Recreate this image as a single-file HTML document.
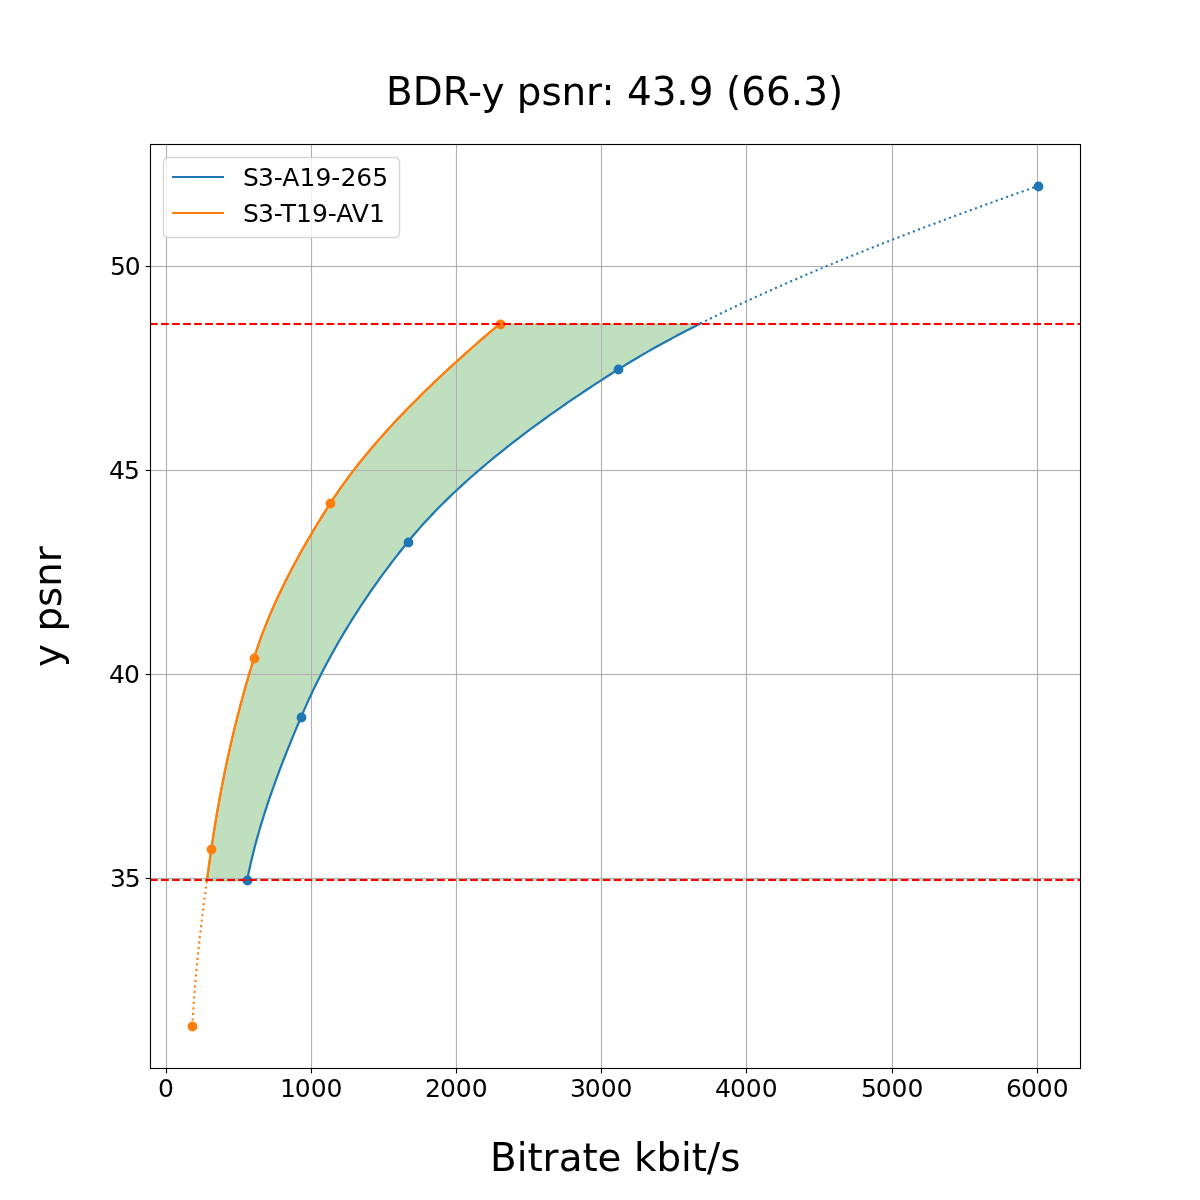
<!DOCTYPE html>
<html lang="en">
<head>
<meta charset="utf-8">
<title>BDR-y psnr: 43.9 (66.3)</title>
<style>
html,body{margin:0;padding:0;background:#ffffff;}
body{width:1200px;height:1200px;overflow:hidden;}
svg{display:block;}
</style>
</head>
<body>
<svg width="1200" height="1200" viewBox="0 0 1200 1200">
<rect x="0" y="0" width="1200" height="1200" fill="#ffffff"/>
<path d="M206.948 880.7 L207.331 877.582 L207.716 874.785 L208.103 871.987 L208.493 869.189 L208.885 866.391 L209.278 863.594 L209.674 860.796 L210.072 857.998 L210.472 855.2 L210.874 852.403 L211.277 849.605 L211.683 846.807 L212.095 844.009 L212.513 841.212 L212.936 838.414 L213.365 835.616 L213.801 832.818 L214.242 830.021 L214.689 827.223 L215.142 824.425 L215.601 821.627 L216.066 818.83 L216.537 816.032 L217.015 813.234 L217.498 810.437 L217.988 807.639 L218.484 804.841 L218.986 802.043 L219.494 799.246 L220.009 796.448 L220.53 793.65 L221.057 790.852 L221.591 788.055 L222.132 785.257 L222.678 782.459 L223.232 779.661 L223.791 776.864 L224.358 774.066 L224.931 771.268 L225.51 768.47 L226.097 765.673 L226.69 762.875 L227.29 760.077 L227.896 757.279 L228.509 754.482 L229.13 751.684 L229.757 748.886 L230.391 746.089 L231.032 743.291 L231.679 740.493 L232.334 737.695 L232.996 734.898 L233.665 732.1 L234.341 729.302 L235.024 726.504 L235.715 723.707 L236.412 720.909 L237.117 718.111 L237.829 715.313 L238.549 712.516 L239.275 709.718 L240.009 706.92 L240.751 704.122 L241.5 701.325 L242.256 698.527 L243.02 695.729 L243.791 692.932 L244.57 690.134 L245.357 687.336 L246.151 684.538 L246.953 681.741 L247.762 678.943 L248.579 676.145 L249.404 673.347 L250.237 670.55 L251.078 667.752 L251.926 664.954 L252.782 662.156 L253.647 659.359 L254.521 656.561 L255.415 653.763 L256.33 650.965 L257.266 648.168 L258.223 645.37 L259.201 642.572 L260.2 639.774 L261.218 636.977 L262.257 634.179 L263.316 631.381 L264.395 628.584 L265.493 625.786 L266.611 622.988 L267.749 620.19 L268.905 617.393 L270.081 614.595 L271.275 611.797 L272.488 608.999 L273.72 606.202 L274.969 603.404 L276.237 600.606 L277.523 597.808 L278.827 595.011 L280.148 592.213 L281.487 589.415 L282.843 586.617 L284.216 583.82 L285.606 581.022 L287.013 578.224 L288.436 575.426 L289.876 572.629 L291.332 569.831 L292.805 567.033 L294.293 564.236 L295.797 561.438 L297.316 558.64 L298.851 555.842 L300.401 553.045 L301.966 550.247 L303.546 547.449 L305.141 544.651 L306.75 541.854 L308.374 539.056 L310.011 536.258 L311.663 533.46 L313.329 530.663 L315.008 527.865 L316.701 525.067 L318.408 522.269 L320.127 519.472 L321.859 516.674 L323.605 513.876 L325.362 511.078 L327.133 508.281 L328.916 505.483 L330.711 502.685 L332.531 499.888 L334.383 497.09 L336.265 494.292 L338.178 491.494 L340.122 488.697 L342.096 485.899 L344.1 483.101 L346.134 480.303 L348.197 477.506 L350.289 474.708 L352.411 471.91 L354.561 469.112 L356.74 466.315 L358.947 463.517 L361.182 460.719 L363.445 457.921 L365.736 455.124 L368.054 452.326 L370.399 449.528 L372.771 446.731 L375.169 443.933 L377.594 441.135 L380.045 438.337 L382.522 435.54 L385.025 432.742 L387.553 429.944 L390.106 427.146 L392.684 424.349 L395.287 421.551 L397.914 418.753 L400.566 415.955 L403.241 413.158 L405.94 410.36 L408.663 407.562 L411.409 404.764 L414.177 401.967 L416.969 399.169 L419.783 396.371 L422.619 393.573 L425.478 390.776 L428.358 387.978 L431.26 385.18 L434.183 382.383 L437.127 379.585 L440.092 376.787 L443.077 373.989 L446.083 371.192 L449.109 368.394 L452.155 365.596 L455.22 362.798 L458.305 360.001 L461.409 357.203 L464.532 354.405 L467.673 351.607 L470.833 348.81 L474.011 346.012 L477.207 343.214 L480.42 340.416 L483.652 337.619 L486.9 334.821 L490.165 332.023 L493.447 329.225 L496.745 326.428 L500.06 324.2 L700.146 324.2 L694.628 326.428 L689.174 329.225 L683.784 332.023 L678.46 334.821 L673.201 337.619 L668.008 340.416 L662.881 343.214 L657.823 346.012 L652.832 348.81 L647.91 351.607 L643.057 354.405 L638.273 357.203 L633.56 360.001 L628.918 362.798 L624.348 365.596 L619.849 368.394 L615.414 371.192 L611.011 373.989 L606.638 376.787 L602.295 379.585 L597.982 382.383 L593.7 385.18 L589.448 387.978 L585.228 390.776 L581.038 393.573 L576.88 396.371 L572.753 399.169 L568.657 401.967 L564.594 404.764 L560.562 407.562 L556.562 410.36 L552.594 413.158 L548.659 415.955 L544.756 418.753 L540.887 421.551 L537.05 424.349 L533.246 427.146 L529.475 429.944 L525.738 432.742 L522.034 435.54 L518.365 438.337 L514.729 441.135 L511.127 443.933 L507.559 446.731 L504.027 449.528 L500.528 452.326 L497.065 455.124 L493.636 457.921 L490.243 460.719 L486.885 463.517 L483.562 466.315 L480.275 469.112 L477.024 471.91 L473.809 474.708 L470.63 477.506 L467.488 480.303 L464.382 483.101 L461.313 485.899 L458.281 488.697 L455.285 491.494 L452.327 494.292 L449.407 497.09 L446.524 499.888 L443.678 502.685 L440.871 505.483 L438.102 508.281 L435.371 511.078 L432.678 513.876 L430.024 516.674 L427.409 519.472 L424.832 522.269 L422.295 525.067 L419.797 527.865 L417.339 530.663 L414.92 533.46 L412.541 536.258 L410.202 539.056 L407.904 541.854 L405.636 544.651 L403.389 547.449 L401.162 550.247 L398.954 553.045 L396.767 555.842 L394.599 558.64 L392.45 561.438 L390.322 564.236 L388.212 567.033 L386.122 569.831 L384.051 572.629 L382 575.426 L379.967 578.224 L377.953 581.022 L375.958 583.82 L373.982 586.617 L372.025 589.415 L370.086 592.213 L368.166 595.011 L366.264 597.808 L364.381 600.606 L362.515 603.404 L360.668 606.202 L358.839 608.999 L357.028 611.797 L355.235 614.595 L353.459 617.393 L351.701 620.19 L349.961 622.988 L348.238 625.786 L346.533 628.584 L344.845 631.381 L343.174 634.179 L341.52 636.977 L339.883 639.774 L338.264 642.572 L336.661 645.37 L335.075 648.168 L333.505 650.965 L331.952 653.763 L330.416 656.561 L328.896 659.359 L327.392 662.156 L325.905 664.954 L324.433 667.752 L322.978 670.55 L321.538 673.347 L320.115 676.145 L318.707 678.943 L317.315 681.741 L315.938 684.538 L314.577 687.336 L313.231 690.134 L311.901 692.932 L310.585 695.729 L309.285 698.527 L308 701.325 L306.73 704.122 L305.474 706.92 L304.234 709.718 L303.008 712.516 L301.796 715.313 L300.598 718.111 L299.408 720.909 L298.224 723.707 L297.045 726.504 L295.873 729.302 L294.708 732.1 L293.549 734.898 L292.396 737.695 L291.251 740.493 L290.113 743.291 L288.982 746.089 L287.859 748.886 L286.744 751.684 L285.637 754.482 L284.537 757.279 L283.446 760.077 L282.364 762.875 L281.29 765.673 L280.225 768.47 L279.169 771.268 L278.123 774.066 L277.086 776.864 L276.058 779.661 L275.04 782.459 L274.033 785.257 L273.035 788.055 L272.048 790.852 L271.071 793.65 L270.105 796.448 L269.151 799.246 L268.207 802.043 L267.274 804.841 L266.353 807.639 L265.444 810.437 L264.547 813.234 L263.661 816.032 L262.788 818.83 L261.928 821.627 L261.08 824.425 L260.245 827.223 L259.422 830.021 L258.613 832.818 L257.818 835.616 L257.036 838.414 L256.267 841.212 L255.513 844.009 L254.773 846.807 L254.047 849.605 L253.335 852.403 L252.639 855.2 L251.957 857.998 L251.29 860.796 L250.638 863.594 L250.002 866.391 L249.382 869.189 L248.777 871.987 L248.189 874.785 L247.616 877.582 L247.06 880.7Z" fill="#008000" fill-opacity="0.25"/>
<path d="M206.948 880.38 L207.331 877.582 L207.716 874.785 L208.103 871.987 L208.493 869.189 L208.885 866.391 L209.278 863.594 L209.674 860.796 L210.072 857.998 L210.472 855.2 L210.874 852.403 L211.277 849.605 L211.683 846.807 L212.095 844.009 L212.513 841.212 L212.936 838.414 L213.365 835.616 L213.801 832.818 L214.242 830.021 L214.689 827.223 L215.142 824.425 L215.601 821.627 L216.066 818.83 L216.537 816.032 L217.015 813.234 L217.498 810.437 L217.988 807.639 L218.484 804.841 L218.986 802.043 L219.494 799.246 L220.009 796.448 L220.53 793.65 L221.057 790.852 L221.591 788.055 L222.132 785.257 L222.678 782.459 L223.232 779.661 L223.791 776.864 L224.358 774.066 L224.931 771.268 L225.51 768.47 L226.097 765.673 L226.69 762.875 L227.29 760.077 L227.896 757.279 L228.509 754.482 L229.13 751.684 L229.757 748.886 L230.391 746.089 L231.032 743.291 L231.679 740.493 L232.334 737.695 L232.996 734.898 L233.665 732.1 L234.341 729.302 L235.024 726.504 L235.715 723.707 L236.412 720.909 L237.117 718.111 L237.829 715.313 L238.549 712.516 L239.275 709.718 L240.009 706.92 L240.751 704.122 L241.5 701.325 L242.256 698.527 L243.02 695.729 L243.791 692.932 L244.57 690.134 L245.357 687.336 L246.151 684.538 L246.953 681.741 L247.762 678.943 L248.579 676.145 L249.404 673.347 L250.237 670.55 L251.078 667.752 L251.926 664.954 L252.782 662.156 L253.647 659.359 L254.521 656.561 L255.415 653.763 L256.33 650.965 L257.266 648.168 L258.223 645.37 L259.201 642.572 L260.2 639.774 L261.218 636.977 L262.257 634.179 L263.316 631.381 L264.395 628.584 L265.493 625.786 L266.611 622.988 L267.749 620.19 L268.905 617.393 L270.081 614.595 L271.275 611.797 L272.488 608.999 L273.72 606.202 L274.969 603.404 L276.237 600.606 L277.523 597.808 L278.827 595.011 L280.148 592.213 L281.487 589.415 L282.843 586.617 L284.216 583.82 L285.606 581.022 L287.013 578.224 L288.436 575.426 L289.876 572.629 L291.332 569.831 L292.805 567.033 L294.293 564.236 L295.797 561.438 L297.316 558.64 L298.851 555.842 L300.401 553.045 L301.966 550.247 L303.546 547.449 L305.141 544.651 L306.75 541.854 L308.374 539.056 L310.011 536.258 L311.663 533.46 L313.329 530.663 L315.008 527.865 L316.701 525.067 L318.408 522.269 L320.127 519.472 L321.859 516.674 L323.605 513.876 L325.362 511.078 L327.133 508.281 L328.916 505.483 L330.711 502.685 L332.531 499.888 L334.383 497.09 L336.265 494.292 L338.178 491.494 L340.122 488.697 L342.096 485.899 L344.1 483.101 L346.134 480.303 L348.197 477.506 L350.289 474.708 L352.411 471.91 L354.561 469.112 L356.74 466.315 L358.947 463.517 L361.182 460.719 L363.445 457.921 L365.736 455.124 L368.054 452.326 L370.399 449.528 L372.771 446.731 L375.169 443.933 L377.594 441.135 L380.045 438.337 L382.522 435.54 L385.025 432.742 L387.553 429.944 L390.106 427.146 L392.684 424.349 L395.287 421.551 L397.914 418.753 L400.566 415.955 L403.241 413.158 L405.94 410.36 L408.663 407.562 L411.409 404.764 L414.177 401.967 L416.969 399.169 L419.783 396.371 L422.619 393.573 L425.478 390.776 L428.358 387.978 L431.26 385.18 L434.183 382.383 L437.127 379.585 L440.092 376.787 L443.077 373.989 L446.083 371.192 L449.109 368.394 L452.155 365.596 L455.22 362.798 L458.305 360.001 L461.409 357.203 L464.532 354.405 L467.673 351.607 L470.833 348.81 L474.011 346.012 L477.207 343.214 L480.42 340.416 L483.652 337.619 L486.9 334.821 L490.165 332.023 L493.447 329.225 L496.745 326.428 L500.06 323.63" fill="none" stroke="#008000" stroke-opacity="0.25" stroke-width="1.389"/>
<path d="M247.06 880.38 L247.616 877.582 L248.189 874.785 L248.777 871.987 L249.382 869.189 L250.002 866.391 L250.638 863.594 L251.29 860.796 L251.957 857.998 L252.639 855.2 L253.335 852.403 L254.047 849.605 L254.773 846.807 L255.513 844.009 L256.267 841.212 L257.036 838.414 L257.818 835.616 L258.613 832.818 L259.422 830.021 L260.245 827.223 L261.08 824.425 L261.928 821.627 L262.788 818.83 L263.661 816.032 L264.547 813.234 L265.444 810.437 L266.353 807.639 L267.274 804.841 L268.207 802.043 L269.151 799.246 L270.105 796.448 L271.071 793.65 L272.048 790.852 L273.035 788.055 L274.033 785.257 L275.04 782.459 L276.058 779.661 L277.086 776.864 L278.123 774.066 L279.169 771.268 L280.225 768.47 L281.29 765.673 L282.364 762.875 L283.446 760.077 L284.537 757.279 L285.637 754.482 L286.744 751.684 L287.859 748.886 L288.982 746.089 L290.113 743.291 L291.251 740.493 L292.396 737.695 L293.549 734.898 L294.708 732.1 L295.873 729.302 L297.045 726.504 L298.224 723.707 L299.408 720.909 L300.598 718.111 L301.796 715.313 L303.008 712.516 L304.234 709.718 L305.474 706.92 L306.73 704.122 L308 701.325 L309.285 698.527 L310.585 695.729 L311.901 692.932 L313.231 690.134 L314.577 687.336 L315.938 684.538 L317.315 681.741 L318.707 678.943 L320.115 676.145 L321.538 673.347 L322.978 670.55 L324.433 667.752 L325.905 664.954 L327.392 662.156 L328.896 659.359 L330.416 656.561 L331.952 653.763 L333.505 650.965 L335.075 648.168 L336.661 645.37 L338.264 642.572 L339.883 639.774 L341.52 636.977 L343.174 634.179 L344.845 631.381 L346.533 628.584 L348.238 625.786 L349.961 622.988 L351.701 620.19 L353.459 617.393 L355.235 614.595 L357.028 611.797 L358.839 608.999 L360.668 606.202 L362.515 603.404 L364.381 600.606 L366.264 597.808 L368.166 595.011 L370.086 592.213 L372.025 589.415 L373.982 586.617 L375.958 583.82 L377.953 581.022 L379.967 578.224 L382 575.426 L384.051 572.629 L386.122 569.831 L388.212 567.033 L390.322 564.236 L392.45 561.438 L394.599 558.64 L396.767 555.842 L398.954 553.045 L401.162 550.247 L403.389 547.449 L405.636 544.651 L407.904 541.854 L410.202 539.056 L412.541 536.258 L414.92 533.46 L417.339 530.663 L419.797 527.865 L422.295 525.067 L424.832 522.269 L427.409 519.472 L430.024 516.674 L432.678 513.876 L435.371 511.078 L438.102 508.281 L440.871 505.483 L443.678 502.685 L446.524 499.888 L449.407 497.09 L452.327 494.292 L455.285 491.494 L458.281 488.697 L461.313 485.899 L464.382 483.101 L467.488 480.303 L470.63 477.506 L473.809 474.708 L477.024 471.91 L480.275 469.112 L483.562 466.315 L486.885 463.517 L490.243 460.719 L493.636 457.921 L497.065 455.124 L500.528 452.326 L504.027 449.528 L507.559 446.731 L511.127 443.933 L514.729 441.135 L518.365 438.337 L522.034 435.54 L525.738 432.742 L529.475 429.944 L533.246 427.146 L537.05 424.349 L540.887 421.551 L544.756 418.753 L548.659 415.955 L552.594 413.158 L556.562 410.36 L560.562 407.562 L564.594 404.764 L568.657 401.967 L572.753 399.169 L576.88 396.371 L581.038 393.573 L585.228 390.776 L589.448 387.978 L593.7 385.18 L597.982 382.383 L602.295 379.585 L606.638 376.787 L611.011 373.989 L615.414 371.192 L619.849 368.394 L624.348 365.596 L628.918 362.798 L633.56 360.001 L638.273 357.203 L643.057 354.405 L647.91 351.607 L652.832 348.81 L657.823 346.012 L662.881 343.214 L668.008 340.416 L673.201 337.619 L678.46 334.821 L683.784 332.023 L689.174 329.225 L694.628 326.428 L700.146 323.63" fill="none" stroke="#008000" stroke-opacity="0.25" stroke-width="1.389"/>
<path d="M500.06 324.2 L700.146 324.2" fill="none" stroke="#008000" stroke-opacity="0.25" stroke-width="1.389"/>
<path d="M206.948 880.7 L247.06 880.7" fill="none" stroke="#008000" stroke-opacity="0.25" stroke-width="1.389"/>
<g fill="#b0b0b0">
<rect x="165.931" y="144" width="1.137" height="924"/>
<rect x="310.932" y="144" width="1.137" height="924"/>
<rect x="455.932" y="144" width="1.137" height="924"/>
<rect x="600.932" y="144" width="1.137" height="924"/>
<rect x="745.932" y="144" width="1.137" height="924"/>
<rect x="891.932" y="144" width="1.137" height="924"/>
<rect x="1036.931" y="144" width="1.137" height="924"/>
<rect x="150" y="877.932" width="930" height="1.137"/>
<rect x="150" y="673.932" width="930" height="1.137"/>
<rect x="150" y="469.932" width="930" height="1.137"/>
<rect x="150" y="265.932" width="930" height="1.137"/>
</g>
<g fill="#000000">
<rect x="165.944" y="1068.5" width="1.111" height="4.861"/>
<rect x="310.944" y="1068.5" width="1.111" height="4.861"/>
<rect x="455.944" y="1068.5" width="1.111" height="4.861"/>
<rect x="600.944" y="1068.5" width="1.111" height="4.861"/>
<rect x="745.944" y="1068.5" width="1.111" height="4.861"/>
<rect x="891.944" y="1068.5" width="1.111" height="4.861"/>
<rect x="1036.944" y="1068.5" width="1.111" height="4.861"/>
<rect x="145.639" y="877.944" width="4.861" height="1.111"/>
<rect x="145.639" y="673.944" width="4.861" height="1.111"/>
<rect x="145.639" y="469.944" width="4.861" height="1.111"/>
<rect x="145.639" y="265.944" width="4.861" height="1.111"/>
</g>
<g fill="#1f77b4" stroke="#1f77b4" stroke-width="1.389">
<circle cx="247.5" cy="880.5" r="4.207"/>
<circle cx="301.5" cy="717.5" r="4.207"/>
<circle cx="408.5" cy="542.5" r="4.207"/>
<circle cx="618.5" cy="369.5" r="4.207"/>
<circle cx="1038.5" cy="186.5" r="4.207"/>
</g>
<g fill="#ff7f0e" stroke="#ff7f0e" stroke-width="1.389">
<circle cx="192.5" cy="1026.5" r="4.207"/>
<circle cx="211.5" cy="849.5" r="4.207"/>
<circle cx="254.5" cy="658.5" r="4.207"/>
<circle cx="330.5" cy="503.5" r="4.207"/>
<circle cx="500.5" cy="324.5" r="4.207"/>
</g>
<path d="M247.08 880.38 L247.636 877.582 L248.209 874.785 L248.797 871.987 L249.402 869.189 L250.022 866.391 L250.658 863.594 L251.31 860.796 L251.977 857.998 L252.659 855.2 L253.355 852.403 L254.067 849.605 L254.793 846.807 L255.533 844.009 L256.287 841.212 L257.056 838.414 L257.838 835.616 L258.633 832.818 L259.442 830.021 L260.265 827.223 L261.1 824.425 L261.948 821.627 L262.808 818.83 L263.681 816.032 L264.567 813.234 L265.464 810.437 L266.373 807.639 L267.294 804.841 L268.227 802.043 L269.171 799.246 L270.125 796.448 L271.091 793.65 L272.068 790.852 L273.055 788.055 L274.053 785.257 L275.06 782.459 L276.078 779.661 L277.106 776.864 L278.143 774.066 L279.189 771.268 L280.245 768.47 L281.31 765.673 L282.384 762.875 L283.466 760.077 L284.557 757.279 L285.657 754.482 L286.764 751.684 L287.879 748.886 L289.002 746.089 L290.133 743.291 L291.271 740.493 L292.416 737.695 L293.569 734.898 L294.728 732.1 L295.893 729.302 L297.065 726.504 L298.244 723.707 L299.428 720.909 L300.618 718.111 L301.816 715.313 L303.028 712.516 L304.254 709.718 L305.494 706.92 L306.75 704.122 L308.02 701.325 L309.305 698.527 L310.605 695.729 L311.921 692.932 L313.251 690.134 L314.597 687.336 L315.958 684.538 L317.335 681.741 L318.727 678.943 L320.135 676.145 L321.558 673.347 L322.998 670.55 L324.453 667.752 L325.925 664.954 L327.412 662.156 L328.916 659.359 L330.436 656.561 L331.972 653.763 L333.525 650.965 L335.095 648.168 L336.681 645.37 L338.284 642.572 L339.903 639.774 L341.54 636.977 L343.194 634.179 L344.865 631.381 L346.553 628.584 L348.258 625.786 L349.981 622.988 L351.721 620.19 L353.479 617.393 L355.255 614.595 L357.048 611.797 L358.859 608.999 L360.688 606.202 L362.535 603.404 L364.401 600.606 L366.284 597.808 L368.186 595.011 L370.106 592.213 L372.045 589.415 L374.002 586.617 L375.978 583.82 L377.973 581.022 L379.987 578.224 L382.02 575.426 L384.071 572.629 L386.142 569.831 L388.232 567.033 L390.342 564.236 L392.47 561.438 L394.619 558.64 L396.787 555.842 L398.974 553.045 L401.182 550.247 L403.409 547.449 L405.656 544.651 L407.924 541.854 L410.222 539.056 L412.561 536.258 L414.94 533.46 L417.359 530.663 L419.817 527.865 L422.315 525.067 L424.852 522.269 L427.429 519.472 L430.044 516.674 L432.698 513.876 L435.391 511.078 L438.122 508.281 L440.891 505.483 L443.698 502.685 L446.544 499.888 L449.427 497.09 L452.347 494.292 L455.305 491.494 L458.301 488.697 L461.333 485.899 L464.402 483.101 L467.508 480.303 L470.65 477.506 L473.829 474.708 L477.044 471.91 L480.295 469.112 L483.582 466.315 L486.905 463.517 L490.263 460.719 L493.656 457.921 L497.085 455.124 L500.548 452.326 L504.047 449.528 L507.579 446.731 L511.147 443.933 L514.749 441.135 L518.385 438.337 L522.054 435.54 L525.758 432.742 L529.495 429.944 L533.266 427.146 L537.07 424.349 L540.907 421.551 L544.776 418.753 L548.679 415.955 L552.614 413.158 L556.582 410.36 L560.582 407.562 L564.614 404.764 L568.677 401.967 L572.773 399.169 L576.9 396.371 L581.058 393.573 L585.248 390.776 L589.468 387.978 L593.72 385.18 L598.002 382.383 L602.315 379.585 L606.658 376.787 L611.031 373.989 L615.434 371.192 L619.869 368.394 L624.368 365.596 L628.938 362.798 L633.58 360.001 L638.293 357.203 L643.077 354.405 L647.93 351.607 L652.852 348.81 L657.843 346.012 L662.901 343.214 L668.028 340.416 L673.221 337.619 L678.48 334.821 L683.804 332.023 L689.194 329.225 L694.648 326.428 L700.166 323.63" fill="none" stroke="#1f77b4" stroke-width="2.193" stroke-linecap="square" stroke-linejoin="round"/>
<path d="M206.928 880.38 L207.311 877.582 L207.696 874.785 L208.083 871.987 L208.473 869.189 L208.865 866.391 L209.258 863.594 L209.654 860.796 L210.052 857.998 L210.452 855.2 L210.854 852.403 L211.257 849.605 L211.663 846.807 L212.075 844.009 L212.493 841.212 L212.916 838.414 L213.345 835.616 L213.781 832.818 L214.222 830.021 L214.669 827.223 L215.122 824.425 L215.581 821.627 L216.046 818.83 L216.517 816.032 L216.995 813.234 L217.478 810.437 L217.968 807.639 L218.464 804.841 L218.966 802.043 L219.474 799.246 L219.989 796.448 L220.51 793.65 L221.037 790.852 L221.571 788.055 L222.112 785.257 L222.658 782.459 L223.212 779.661 L223.771 776.864 L224.338 774.066 L224.911 771.268 L225.49 768.47 L226.077 765.673 L226.67 762.875 L227.27 760.077 L227.876 757.279 L228.489 754.482 L229.11 751.684 L229.737 748.886 L230.371 746.089 L231.012 743.291 L231.659 740.493 L232.314 737.695 L232.976 734.898 L233.645 732.1 L234.321 729.302 L235.004 726.504 L235.695 723.707 L236.392 720.909 L237.097 718.111 L237.809 715.313 L238.529 712.516 L239.255 709.718 L239.989 706.92 L240.731 704.122 L241.48 701.325 L242.236 698.527 L243 695.729 L243.771 692.932 L244.55 690.134 L245.337 687.336 L246.131 684.538 L246.933 681.741 L247.742 678.943 L248.559 676.145 L249.384 673.347 L250.217 670.55 L251.058 667.752 L251.906 664.954 L252.762 662.156 L253.627 659.359 L254.501 656.561 L255.395 653.763 L256.31 650.965 L257.246 648.168 L258.203 645.37 L259.181 642.572 L260.18 639.774 L261.198 636.977 L262.237 634.179 L263.296 631.381 L264.375 628.584 L265.473 625.786 L266.591 622.988 L267.729 620.19 L268.885 617.393 L270.061 614.595 L271.255 611.797 L272.468 608.999 L273.7 606.202 L274.949 603.404 L276.217 600.606 L277.503 597.808 L278.807 595.011 L280.128 592.213 L281.467 589.415 L282.823 586.617 L284.196 583.82 L285.586 581.022 L286.993 578.224 L288.416 575.426 L289.856 572.629 L291.312 569.831 L292.785 567.033 L294.273 564.236 L295.777 561.438 L297.296 558.64 L298.831 555.842 L300.381 553.045 L301.946 550.247 L303.526 547.449 L305.121 544.651 L306.73 541.854 L308.354 539.056 L309.991 536.258 L311.643 533.46 L313.309 530.663 L314.988 527.865 L316.681 525.067 L318.388 522.269 L320.107 519.472 L321.839 516.674 L323.585 513.876 L325.342 511.078 L327.113 508.281 L328.896 505.483 L330.691 502.685 L332.511 499.888 L334.363 497.09 L336.245 494.292 L338.158 491.494 L340.102 488.697 L342.076 485.899 L344.08 483.101 L346.114 480.303 L348.177 477.506 L350.269 474.708 L352.391 471.91 L354.541 469.112 L356.72 466.315 L358.927 463.517 L361.162 460.719 L363.425 457.921 L365.716 455.124 L368.034 452.326 L370.379 449.528 L372.751 446.731 L375.149 443.933 L377.574 441.135 L380.025 438.337 L382.502 435.54 L385.005 432.742 L387.533 429.944 L390.086 427.146 L392.664 424.349 L395.267 421.551 L397.894 418.753 L400.546 415.955 L403.221 413.158 L405.92 410.36 L408.643 407.562 L411.389 404.764 L414.157 401.967 L416.949 399.169 L419.763 396.371 L422.599 393.573 L425.458 390.776 L428.338 387.978 L431.24 385.18 L434.163 382.383 L437.107 379.585 L440.072 376.787 L443.057 373.989 L446.063 371.192 L449.089 368.394 L452.135 365.596 L455.2 362.798 L458.285 360.001 L461.389 357.203 L464.512 354.405 L467.653 351.607 L470.813 348.81 L473.991 346.012 L477.187 343.214 L480.4 340.416 L483.632 337.619 L486.88 334.821 L490.145 332.023 L493.427 329.225 L496.725 326.428 L500.04 323.63" fill="none" stroke="#ff7f0e" stroke-width="2.133" stroke-linecap="square" stroke-linejoin="round"/>
<path d="M206.928 880.38 L207.311 877.582 L207.696 874.785 L208.083 871.987 L208.473 869.189 L208.865 866.391 L209.258 863.594 L209.654 860.796 L210.052 857.998 L210.452 855.2 L210.854 852.403 L211.257 849.605 L211.663 846.807 L212.075 844.009 L212.493 841.212 L212.916 838.414 L213.345 835.616 L213.781 832.818 L214.222 830.021 L214.669 827.223 L215.122 824.425 L215.581 821.627 L216.046 818.83 L216.517 816.032 L216.995 813.234 L217.478 810.437 L217.968 807.639 L218.464 804.841 L218.966 802.043 L219.474 799.246 L219.989 796.448 L220.51 793.65 L221.037 790.852 L221.571 788.055 L222.112 785.257 L222.658 782.459 L223.212 779.661 L223.771 776.864 L224.338 774.066 L224.911 771.268 L225.49 768.47 L226.077 765.673 L226.67 762.875 L227.27 760.077 L227.876 757.279 L228.489 754.482 L229.11 751.684 L229.737 748.886 L230.371 746.089 L231.012 743.291 L231.659 740.493 L232.314 737.695 L232.976 734.898 L233.645 732.1 L234.321 729.302 L235.004 726.504 L235.695 723.707 L236.392 720.909 L237.097 718.111 L237.809 715.313 L238.529 712.516 L239.255 709.718 L239.989 706.92 L240.731 704.122 L241.48 701.325 L242.236 698.527 L243 695.729 L243.771 692.932 L244.55 690.134 L245.337 687.336 L246.131 684.538 L246.933 681.741 L247.742 678.943 L248.559 676.145 L249.384 673.347 L250.217 670.55 L251.058 667.752 L251.906 664.954 L252.762 662.156 L253.627 659.359 L254.501 656.561 L255.395 653.763 L256.31 650.965 L257.246 648.168 L258.203 645.37 L259.181 642.572 L260.18 639.774 L261.198 636.977 L262.237 634.179 L263.296 631.381 L264.375 628.584 L265.473 625.786 L266.591 622.988 L267.729 620.19 L268.885 617.393 L270.061 614.595 L271.255 611.797 L272.468 608.999 L273.7 606.202 L274.949 603.404 L276.217 600.606 L277.503 597.808 L278.807 595.011 L280.128 592.213 L281.467 589.415 L282.823 586.617 L284.196 583.82 L285.586 581.022 L286.993 578.224 L288.416 575.426 L289.856 572.629 L291.312 569.831 L292.785 567.033 L294.273 564.236 L295.777 561.438 L297.296 558.64 L298.831 555.842 L300.381 553.045 L301.946 550.247 L303.526 547.449 L305.121 544.651 L306.73 541.854 L308.354 539.056 L309.991 536.258 L311.643 533.46 L313.309 530.663 L314.988 527.865 L316.681 525.067 L318.388 522.269 L320.107 519.472 L321.839 516.674 L323.585 513.876 L325.342 511.078 L327.113 508.281 L328.896 505.483 L330.691 502.685 L332.511 499.888 L334.363 497.09 L336.245 494.292 L338.158 491.494 L340.102 488.697 L342.076 485.899 L344.08 483.101 L346.114 480.303 L348.177 477.506 L350.269 474.708 L352.391 471.91 L354.541 469.112 L356.72 466.315 L358.927 463.517 L361.162 460.719 L363.425 457.921 L365.716 455.124 L368.034 452.326 L370.379 449.528 L372.751 446.731 L375.149 443.933 L377.574 441.135 L380.025 438.337 L382.502 435.54 L385.005 432.742 L387.533 429.944 L390.086 427.146 L392.664 424.349 L395.267 421.551 L397.894 418.753 L400.546 415.955 L403.221 413.158 L405.92 410.36 L408.643 407.562 L411.389 404.764 L414.157 401.967 L416.949 399.169 L419.763 396.371 L422.599 393.573 L425.458 390.776 L428.338 387.978 L431.24 385.18 L434.163 382.383 L437.107 379.585 L440.072 376.787 L443.057 373.989 L446.063 371.192 L449.089 368.394 L452.135 365.596 L455.2 362.798 L458.285 360.001 L461.389 357.203 L464.512 354.405 L467.653 351.607 L470.813 348.81 L473.991 346.012 L477.187 343.214 L480.4 340.416 L483.632 337.619 L486.88 334.821 L490.145 332.023 L493.427 329.225 L496.725 326.428 L500.04 323.63" fill="none" stroke="#ff7f0e" stroke-width="2.133" stroke-linecap="square" stroke-linejoin="round"/>
<path d="M700.146 323.63 L705.748 320.822 L711.413 318.014 L717.141 315.206 L722.931 312.397 L728.781 309.589 L734.693 306.781 L740.665 303.973 L746.696 301.165 L752.786 298.357 L758.934 295.548 L765.14 292.74 L771.403 289.932 L777.723 287.124 L784.098 284.316 L790.529 281.508 L797.014 278.699 L803.554 275.891 L810.147 273.083 L816.793 270.275 L823.491 267.467 L830.241 264.659 L837.042 261.85 L843.893 259.042 L850.795 256.234 L857.745 253.426 L864.745 250.618 L871.792 247.81 L878.887 245.001 L886.029 242.193 L893.217 239.385 L900.451 236.577 L907.73 233.769 L915.053 230.961 L922.421 228.152 L929.831 225.344 L937.285 222.536 L944.78 219.728 L952.317 216.92 L959.895 214.112 L967.513 211.303 L975.171 208.495 L982.868 205.687 L990.603 202.879 L998.376 200.071 L1006.187 197.263 L1014.034 194.454 L1021.917 191.646 L1029.836 188.838 L1037.79 186.03" fill="none" stroke="#1f77b4" stroke-width="2.083" stroke-dasharray="2.083 3.437" stroke-linejoin="round"/>
<path d="M192.33 1026.03 L192.487 1023.058 L192.652 1020.085 L192.824 1017.113 L193.003 1014.14 L193.189 1011.168 L193.383 1008.195 L193.583 1005.223 L193.79 1002.25 L194.003 999.278 L194.223 996.306 L194.45 993.333 L194.683 990.361 L194.922 987.388 L195.168 984.416 L195.42 981.443 L195.677 978.471 L195.941 975.498 L196.211 972.526 L196.486 969.553 L196.767 966.581 L197.053 963.609 L197.345 960.636 L197.643 957.664 L197.945 954.691 L198.253 951.719 L198.566 948.746 L198.884 945.774 L199.206 942.801 L199.534 939.829 L199.866 936.857 L200.203 933.884 L200.544 930.912 L200.89 927.939 L201.24 924.967 L201.595 921.994 L201.953 919.022 L202.316 916.049 L202.682 913.077 L203.053 910.104 L203.427 907.132 L203.805 904.16 L204.186 901.187 L204.571 898.215 L204.959 895.242 L205.351 892.27 L205.746 889.297 L206.143 886.325 L206.544 883.352 L206.948 880.38" fill="none" stroke="#ff7f0e" stroke-width="2.083" stroke-dasharray="2.083 3.437" stroke-linejoin="round"/>
<line x1="150" y1="880" x2="1080" y2="880" stroke="#ff0000" stroke-opacity="0.043" stroke-width="4" stroke-dasharray="7.708 3.333"/>
<line x1="150" y1="880" x2="1080" y2="880" stroke="#ff0000" stroke-width="2.083" stroke-dasharray="7.708 3.333"/>
<line x1="150" y1="324" x2="1080" y2="324" stroke="#ff0000" stroke-opacity="0.043" stroke-width="4" stroke-dasharray="7.708 3.333"/>
<line x1="150" y1="324" x2="1080" y2="324" stroke="#ff0000" stroke-width="2.083" stroke-dasharray="7.708 3.333"/>
<rect x="150.5" y="144.5" width="930" height="924" fill="none" stroke="#000000" stroke-width="1.111"/>
<path d="M168.5 157.5 L394.5 157.5 Q399.5 157.5 399.5 162.5 L399.5 232.5 Q399.5 237.5 394.5 237.5 L168.5 237.5 Q163.5 237.5 163.5 232.5 L163.5 162.5 Q163.5 157.5 168.5 157.5Z" fill="#ffffff" fill-opacity="0.8" stroke="#cccccc" stroke-opacity="0.8" stroke-width="1.389" stroke-linejoin="miter"/>
<line x1="173" y1="177" x2="223" y2="177" stroke="#1f77b4" stroke-width="2.083" stroke-linecap="square"/>
<line x1="173" y1="213" x2="223" y2="213" stroke="#ff7f0e" stroke-width="2.083" stroke-linecap="square"/>
<g font-family="'DejaVu Sans', 'Liberation Sans', sans-serif" fill="#000000">
<text x="157.937" y="1097" font-size="25">0</text>
<text x="279.893 294.783 310.689 326.596" y="1097" font-size="25">1000</text>
<text x="424.958 439.973 455.629 471.786" y="1097" font-size="25">2000</text>
<text x="569.898 584.788 600.694 616.601" y="1097" font-size="25">3000</text>
<text x="714.963 730.103 745.634 761.666" y="1097" font-size="25">4000</text>
<text x="860.903 875.793 891.449 907.606" y="1097" font-size="25">5000</text>
<text x="1005.968 1021.108 1036.639 1052.671" y="1097" font-size="25">6000</text>
<text x="109.968 124.733" y="887" font-size="25">35</text>
<text x="108.968 123.983" y="683" font-size="25">40</text>
<text x="108.968 123.983" y="479" font-size="25">45</text>
<text x="109.968 124.858" y="275" font-size="25">50</text>
<text x="489.938 516.719 527.406 542.391 558.625 582.453 597.438 621.609 633.969 656.484 680.906 691.703 706.953 720.297" y="1171" font-size="38.889">Bitrate kbit/s</text>
<text transform="translate(61 606) rotate(-90)" x="-61.086 -38.086 -25.602 -1.055 19.195 43.836" y="0" font-size="38.889">y psnr</text>
<text x="386.055 412.711 442.648 468.086 481.43 504.43 516.789 541.477 561.477 585.992 601.414 614.758 627.117 651.852 676.211 688.695 713.68 726.039 741.195 765.93 790.664 803.148 827.883" y="105" font-size="38.889">BDR-y psnr: 43.9 (66.3)</text>
<text x="242.875 258.109 273.641 282.234 299.594 315.5 331.156 340.422 356.328 372.234" y="186" font-size="25">S3-A19-265</text>
<text x="242.875 258.109 273.641 280.75 296.016 311.922 327.828 336.297 351.797 368.906" y="222" font-size="25">S3-T19-AV1</text>
</g>
</svg>
</body>
</html>
